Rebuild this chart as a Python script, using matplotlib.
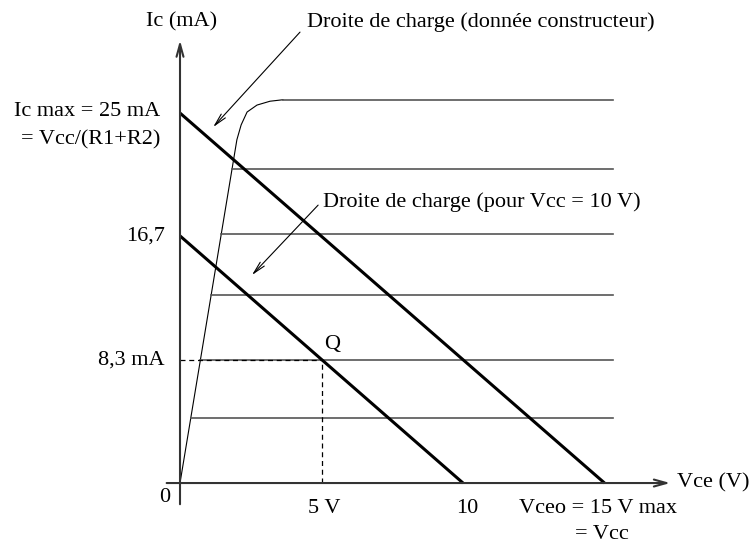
import numpy as np
import matplotlib.pyplot as plt

# load lines: (Ic at Vce=0 in mA, Vce at Ic=0 in V)
load_lines = [(25.0, 15.0), (16.7, 10.0)]
# operating point Q
q_vce = 5.0
q_ic = 8.3
# transistor output curves (Ic levels, mA) and saturation region
curve_levels = [4.4, 8.3, 12.7, 16.8, 21.2, 25.9]
curve_end = 15.3
sat_v = [0.0, 2.01, 2.16, 2.37, 2.72, 3.18, 3.64]
sat_i = [0.0, 23.2, 24.2, 25.07, 25.54, 25.8, 25.9]

plt.rcParams['font.family'] = ['Liberation Serif', 'DejaVu Serif']
fs = 16

fig = plt.figure(figsize=(7.52, 5.44), dpi=100)
ax = fig.add_axes([0, 0, 1, 1])
ax.set_xlim(-6.36, 20.21)
ax.set_ylim(-4.12, 32.64)
ax.axis('off')

# axes with arrows
axis_col = '#333333'
ax.annotate('', xy=(17.42, 0), xytext=(-0.57, 0),
            arrowprops=dict(arrowstyle='->,head_length=0.9,head_width=0.25', color=axis_col, lw=1.5))
ax.annotate('', xy=(0, 30.1), xytext=(0, -1.62),
            arrowprops=dict(arrowstyle='->,head_length=0.9,head_width=0.25', color=axis_col, lw=1.5))

# characteristic curves
ax.plot(sat_v, sat_i, color='black', lw=0.8)
for lev in curve_levels[:-1]:
    x0 = np.interp(lev, sat_i, sat_v)
    ax.plot([x0, curve_end], [lev, lev], color='#555555', lw=1.2)
ax.plot([sat_v[-1], curve_end], [curve_levels[-1]] * 2, color='#555555', lw=1.2)

# load lines
for ic_max, vce_max in load_lines:
    ax.plot([0, vce_max], [ic_max, 0], color='black', lw=2.2, solid_capstyle='butt')

# Q point projections
q_on_line = load_lines[1][0] * (1 - q_vce / load_lines[1][1])
ax.plot([0, q_vce], [q_ic, q_ic], color='black', lw=0.9, ls=(0, (4, 3)))
ax.plot([q_vce, q_vce], [0, q_on_line], color='black', lw=0.9, ls=(0, (4, 3)))
ax.text(q_vce + 0.37, q_on_line + 1.0, 'Q', fontsize=fs, ha='center', va='center')

# labels
ax.text(0.04, 31.15, 'Ic (mA)', fontsize=fs, ha='center', va='center')
ax.text(-0.71, 25.1, 'Ic max = 25 mA', fontsize=fs, ha='right', va='center')
ax.text(-0.68, 23.2, '= Vcc/(R1+R2)', fontsize=fs, ha='right', va='center')
ax.text(-0.53, 16.7, '16,7', fontsize=fs, ha='right', va='center')
ax.text(-0.53, q_ic, '8,3 mA', fontsize=fs, ha='right', va='center')
ax.text(-0.53, -1.0, '0', fontsize=fs, ha='center', va='center')
ax.text(q_vce + 0.1, -1.7, '5 V', fontsize=fs, ha='center', va='center')
ax.text(10.15, -1.7, '10', fontsize=fs, ha='center', va='center')
ax.text(14.77, -1.7, 'Vceo = 15 V max', fontsize=fs, ha='center', va='center')
ax.text(14.9, -3.5, '= Vcc', fontsize=fs, ha='center', va='center')
ax.text(17.56, 0, 'Vce (V)', fontsize=fs, ha='left', va='center')

arrow = dict(arrowstyle='->,head_length=0.9,head_width=0.2', color='black', lw=0.8, shrinkA=0, shrinkB=0)
ax.annotate('', xy=(1.17, 24.05), xytext=(4.24, 30.47), arrowprops=arrow)
ax.text(4.49, 31.15, 'Droite de charge (donnée constructeur)', fontsize=fs, ha='left', va='center')
ax.annotate('', xy=(2.54, 14.05), xytext=(4.88, 18.78), arrowprops=arrow)
ax.text(5.05, 19.0, 'Droite de charge (pour Vcc = 10 V)', fontsize=fs, ha='left', va='center')

fig.savefig('out.png', dpi=100)
